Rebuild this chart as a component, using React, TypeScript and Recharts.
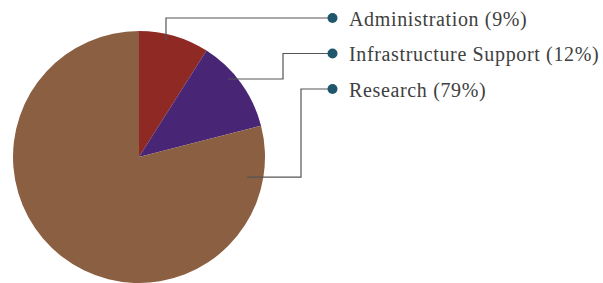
import React from "react";
import { PieChart, Pie, Cell } from "recharts";

const categories = ["Administration", "Infrastructure Support", "Research"];
const shares = [9, 12, 79];
const labelTexts = ["Administration (9%)", "Infrastructure Support (12%)", "Research (79%)"];

const sliceColors = ["#8e2924", "#482675", "#8b5f41"];

// leader-line layout (styling only)
const anchorAngles = [77, 41.2, -10.5];
const anchorRadii = [0.952, 0.94, 0.873];
const elbowXs: (number | null)[] = [null, 283, 301];
const rowTop = 18;
const rowGap = 35.5;
const dotX = 332.5;
const textX = 349;

const data = categories.map((name, i) => ({ name, value: shares[i], label: labelTexts[i] }));

const RAD = Math.PI / 180;

const renderLabel = (props: any) => {
  const { cx, cy, outerRadius, index } = props;
  const a = anchorAngles[index] * RAD;
  const r = outerRadius * anchorRadii[index];
  const sx = cx + r * Math.cos(a);
  const sy = cy - r * Math.sin(a);
  const ex = elbowXs[index] == null ? sx : (elbowXs[index] as number);
  const ry = rowTop + index * rowGap;
  const d = `M${sx},${sy} L${ex},${sy} L${ex},${ry} L${dotX},${ry}`;
  return (
    <g key={`lbl-${index}`}>
      <path d={d} stroke="#555555" strokeWidth={1.2} fill="none" />
      <circle cx={dotX} cy={ry} r={5} fill="#1f566b" />
      <text
        x={textX}
        y={ry + 7.5}
        fill="#404040"
        fontFamily="'Liberation Serif', serif"
        fontSize={20}
        letterSpacing={0.65}
        textAnchor="start"
      >
        {data[index].label}
      </text>
    </g>
  );
};

export default function App() {
  return (
    <div
      style={{
        position: "absolute",
        left: 0,
        top: 0,
        width: 603,
        height: 283,
        overflow: "hidden",
        background: "#ffffff",
      }}
    >
      <PieChart width={603} height={283} margin={{ top: 0, right: 0, bottom: 0, left: 0 }}>
        <Pie
          data={data}
          dataKey="value"
          nameKey="name"
          cx={139}
          cy={157}
          outerRadius={126}
          startAngle={90}
          endAngle={-270}
          stroke="none"
          isAnimationActive={false}
          label={renderLabel}
          labelLine={false}
        >
          {data.map((d, i) => (
            <Cell key={d.name} fill={sliceColors[i]} />
          ))}
        </Pie>
      </PieChart>
    </div>
  );
}
